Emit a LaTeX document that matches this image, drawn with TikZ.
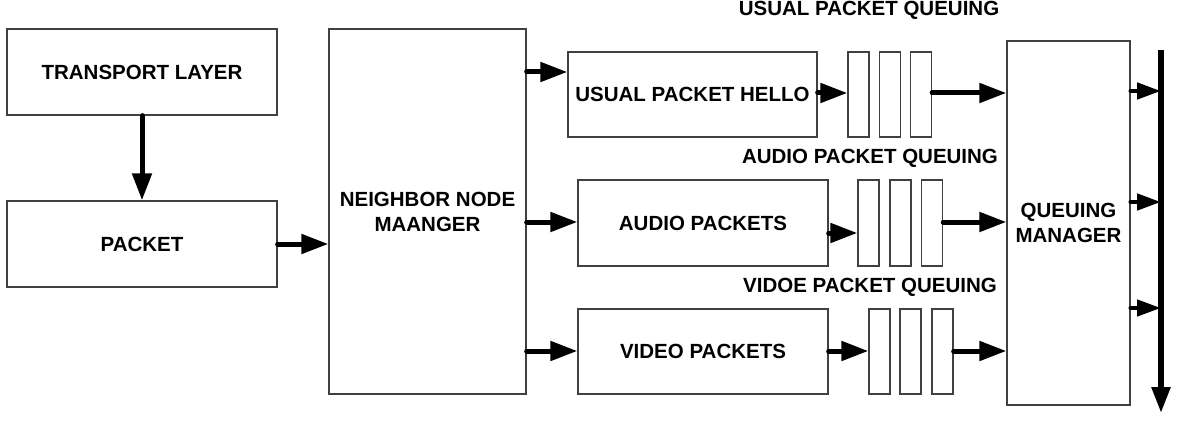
\documentclass[tikz,border=0pt]{standalone}
\usepackage{fontspec}
\setmainfont{Liberation Sans}
\usetikzlibrary{arrows.meta}
\tikzset{
  box/.style={draw=black!75, line width=1.3pt, fill=white, inner sep=0pt, align=center,
    font=\fontsize{20.5}{25}\selectfont\bfseries},
  qrect/.style={draw=black!75, line width=1.3pt, inner sep=0pt, minimum width=21pt},
  arr/.style={line width=5pt, line cap=round, -{Triangle[length=27pt,width=19pt]}},
  sarr/.style={line width=4.5pt, line cap=round, -{Triangle[length=24pt,width=16pt]}},
  lbl/.style={font=\fontsize{20.5}{24}\selectfont\bfseries, inner sep=0pt}
}
\begin{document}
\begin{tikzpicture}[x=1pt,y=-1pt]
\useasboundingbox (0,0) rectangle (1177,425);
% left boxes
\node[box, minimum width=270pt, minimum height=86pt] (tl) at (142,72) {TRANSPORT LAYER};
\node[box, minimum width=270pt, minimum height=86pt] (pk) at (142,244) {PACKET};
\node[box, minimum width=197pt, minimum height=365pt] (nnm) at (427.5,211.5) {NEIGHBOR NODE\\MAANGER};
% middle boxes
\node[box, minimum width=249pt, minimum height=85pt] (hello) at (692.5,94.5) {USUAL PACKET HELLO};
\node[box, minimum width=250pt, minimum height=86pt] (audio) at (703,223) {AUDIO PACKETS};
\node[box, minimum width=250pt, minimum height=85pt] (video) at (703,351.5) {VIDEO PACKETS};
% queues
\node[qrect, minimum height=85pt] (h1) at (858.5,94.5) {};
\node[qrect, minimum height=85pt] (h2) at (890,94.5) {};
\node[qrect, minimum height=85pt] (h3) at (921,94.5) {};
\node[qrect, minimum height=86pt] (a1) at (868.5,223) {};
\node[qrect, minimum height=86pt] (a2) at (900.5,223) {};
\node[qrect, minimum height=86pt] (a3) at (932,223) {};
\node[qrect, minimum height=85pt] (v1) at (879.5,351.5) {};
\node[qrect, minimum height=85pt] (v2) at (910.5,351.5) {};
\node[qrect, minimum height=85pt] (v3) at (942.5,351.5) {};
% queue labels
\node[lbl] (lu) at (869,10) {USUAL PACKET QUEUING};
\node[lbl] (la) at (870,158) {AUDIO PACKET QUEUING};
\node[lbl] (lv) at (870,287) {VIDOE PACKET QUEUING};
% queuing manager
\node[box, minimum width=123pt, minimum height=364pt] (qm) at (1068.5,223) {QUEUING\\MANAGER};
\coordinate (bustop) at (1161,50);
\coordinate (busbot) at (1161,413);
% connectors
\draw[arr] (tl.south) -- (pk.north);
\draw[arr] (pk.east) -- (nnm.west |- pk.east);
\draw[arr] (nnm.east |- 0,72) -- (hello.west |- 0,72);
\draw[arr] (nnm.east |- 0,222) -- (audio.west |- 0,222);
\draw[arr] (nnm.east |- 0,351) -- (video.west |- 0,351);
\draw[arr] (hello.east |- 0,93) -- (h1.west |- 0,93);
\draw[arr] (audio.east |- 0,233) -- (a1.west |- 0,233);
\draw[arr] (video.east |- 0,351) -- (v1.west |- 0,351);
\draw[arr] (h3.east |- 0,93) -- (qm.west |- 0,93);
\draw[arr] (a3.east |- 0,222) -- (qm.west |- 0,222);
\draw[arr] (v3.east |- 0,351) -- (qm.west |- 0,351);
\draw[line width=5.5pt, -{Triangle[length=26pt,width=18pt]}] (bustop) -- (busbot);
\draw[sarr] (qm.east |- 0,91) -- (bustop |- 0,91);
\draw[sarr] (qm.east |- 0,202) -- (bustop |- 0,202);
\draw[sarr] (qm.east |- 0,308) -- (bustop |- 0,308);
\end{tikzpicture}
\end{document}
